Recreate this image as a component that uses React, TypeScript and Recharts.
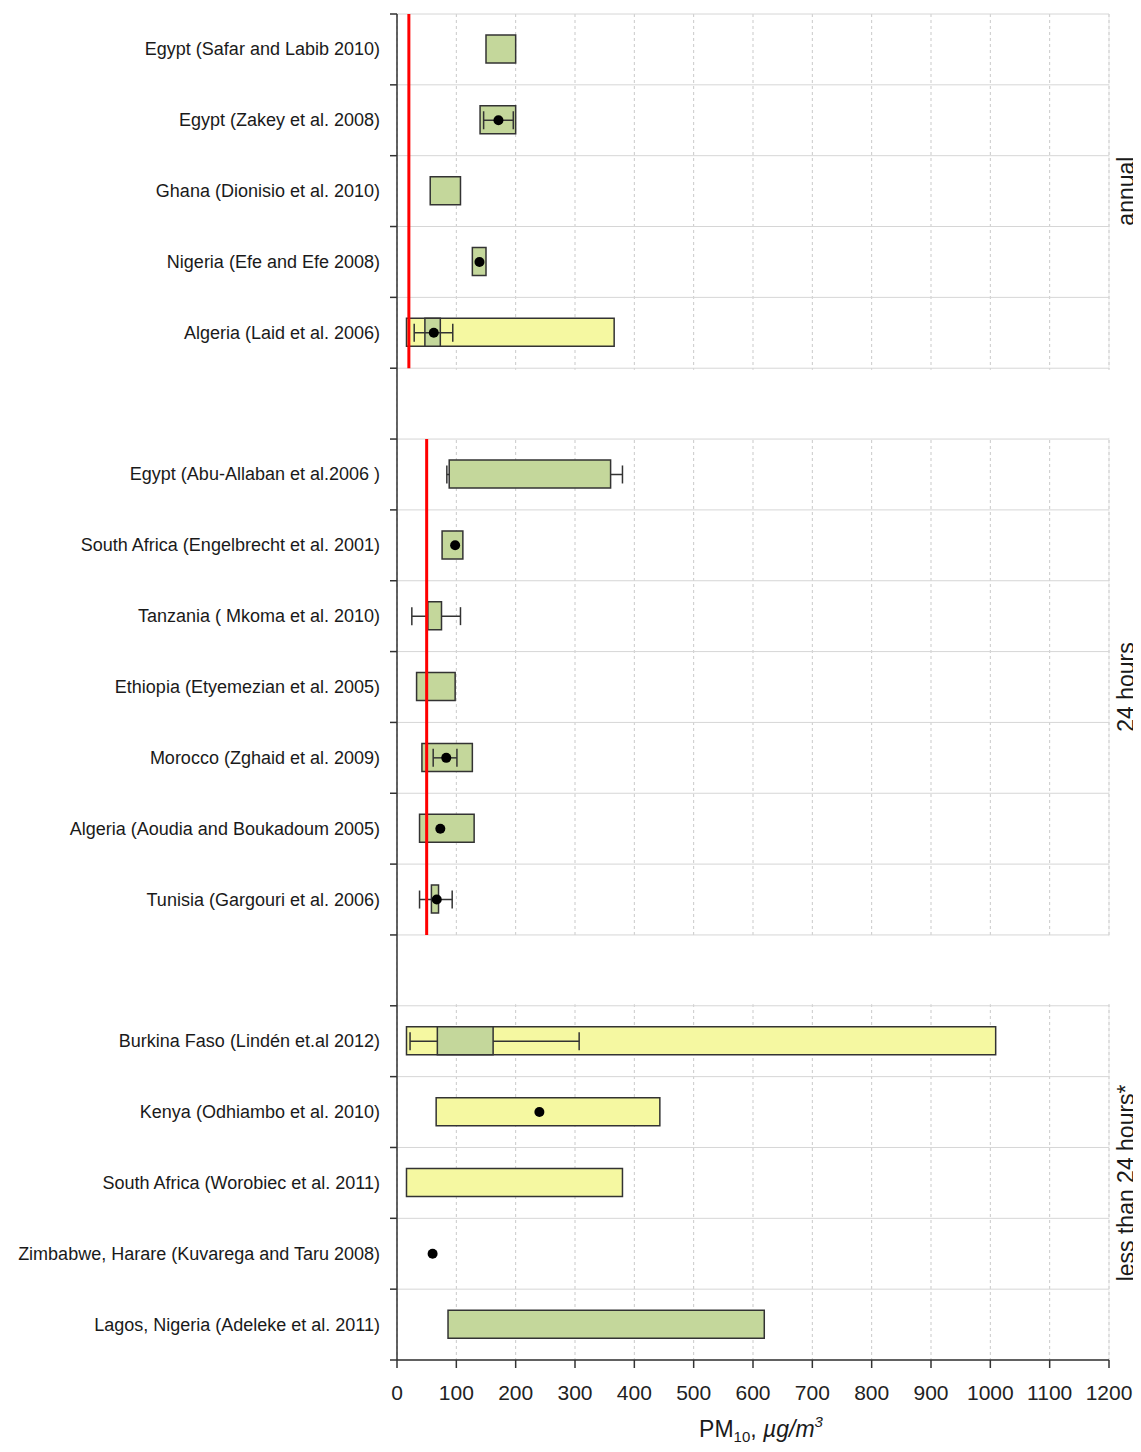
import React from 'react';
import {
  ComposedChart,
  Bar,
  Line,
  XAxis,
  YAxis,
  CartesianGrid,
  ReferenceLine,
  ReferenceArea,
  ErrorBar,
  Label,
} from 'recharts';

// Study rows, top to bottom. '' marks the blank spacer rows between groups.
const studies = [
  'Egypt (Safar and Labib 2010)',
  'Egypt (Zakey et al. 2008)',
  'Ghana (Dionisio et al. 2010)',
  'Nigeria (Efe and Efe 2008)',
  'Algeria (Laid et al. 2006)',
  '',
  'Egypt (Abu-Allaban et al.2006 )',
  'South Africa (Engelbrecht  et al. 2001)',
  'Tanzania ( Mkoma et al. 2010)',
  'Ethiopia (Etyemezian et al. 2005)',
  'Morocco (Zghaid et al. 2009) ',
  'Algeria (Aoudia and Boukadoum 2005) ',
  'Tunisia (Gargouri et al. 2006)',
  '',
  'Burkina Faso (Lindén et.al 2012)',
  'Kenya (Odhiambo et al. 2010)',
  'South Africa (Worobiec et al. 2011)',
  'Zimbabwe, Harare (Kuvarega and Taru 2008)',
  'Lagos, Nigeria (Adeleke et al. 2011)',
];

// green boxes (PM10 range)
const greenLow = [150, 140, 56, 127, 47, null, 88, 76, 52, 33, 42, 38, 58, null, 68, null, null, null, 86];
const greenHigh = [200, 200, 107, 150, 73, null, 360, 111, 75, 98, 127, 130, 70, null, 162, null, null, null, 619];

// yellow boxes (wider range)
const yellowLow = [null, null, null, null, 16, null, null, null, null, null, null, null, null, null, 16, 66, 16, null, null];
const yellowHigh = [null, null, null, null, 366, null, null, null, null, null, null, null, null, null, 1009, 443, 380, null, null];

// mean values (black dots)
const means = [null, 171, null, 139, 62, null, null, 98, null, null, 83, 73, 67, null, null, 240, null, 60, null];

// whiskers drawn on top of the boxes
const frontLow = [null, 146, null, null, 29, null, null, null, null, null, 61, null, 38, null, null, null, null, null, null];
const frontHigh = [null, 196, null, null, 94, null, null, null, null, null, 101, null, 93, null, null, null, null, null, null];

// whiskers hidden behind the green boxes
const backLow = [null, null, null, null, null, null, 84, null, 25, null, null, null, null, null, 22, null, null, null, null];
const backHigh = [null, null, null, null, null, null, 380, null, 107, null, null, null, null, null, 307, null, null, null, null];

const sections = ['annual', '24 hours', 'less than 24 hours*'];
const sectionStart = [0, 6, 14];
const sectionEnd = [5, 13, 19];
const guidelines = [20, 50]; // WHO annual and 24h limits
const gapRows = [5, 13];

const xTicks = [0, 100, 200, 300, 400, 500, 600, 700, 800, 900, 1000, 1100, 1200];
const minorTicks = Array.from({ length: 61 }, (_, i) => i * 20);
const rowCount = studies.length;
const rowLines = Array.from({ length: rowCount + 1 }, (_, i) => i);
const rowTicks = Array.from({ length: rowCount * 2 + 1 }, (_, i) => i / 2);
const sectionMid = sectionStart.map((s, i) => (s + sectionEnd[i]) / 2);

const pair = (lo: number | null, hi: number | null) => (lo == null || hi == null ? null : [lo, hi]);

const data = studies.map((name, i) => ({
  key: `row${i}`,
  pos: i + 0.5,
  name,
  green: pair(greenLow[i], greenHigh[i]),
  yellow: pair(yellowLow[i], yellowHigh[i]),
  mean: means[i],
  frontMid: frontLow[i] == null ? null : (frontLow[i]! + frontHigh[i]!) / 2,
  frontErr: frontLow[i] == null ? null : (frontHigh[i]! - frontLow[i]!) / 2,
  backMid: backLow[i] == null ? null : (backLow[i]! + backHigh[i]!) / 2,
  backErr: backLow[i] == null ? null : (backHigh[i]! - backLow[i]!) / 2,
}));

const FONT = '"Liberation Sans", Arial, sans-serif';
const INK = '#333';
const GREEN = '#c4d79b';
const YELLOW = '#f5f8a1';

const RowTick = (props: any) => {
  const { x, y, payload } = props;
  const v = payload.value as number;
  if (Number.isInteger(v)) {
    return (
      <g>
        <line x1={x - 7} x2={x} y1={y} y2={y} stroke={INK} strokeWidth={1.5} />
      </g>
    );
  }
  return (
    <g>
      <text
        x={x - 17}
        y={y}
        textAnchor="end"
        dominantBaseline="central"
        fontFamily={FONT}
        fontSize={18}
        fill="#1a1a1a"
      >
        {studies[Math.floor(v)]}
      </text>
    </g>
  );
};

const SectionTick = (props: any) => {
  const { x, y, index } = props;
  const tx = x + 17;
  return (
    <g>
      <text
        x={tx}
        y={y}
        transform={`rotate(-90 ${tx} ${y})`}
        textAnchor="middle"
        dominantBaseline="central"
        fontFamily={FONT}
        fontSize={23}
        fill="#1a1a1a"
      >
        {sections[index]}
      </text>
    </g>
  );
};

const XTitle = (props: any) => {
  const { viewBox } = props;
  const cx = viewBox.x + viewBox.width / 2 + 8;
  const cy = viewBox.y + 77;
  return (
    <text x={cx} y={cy} textAnchor="middle" fontFamily={FONT} fontSize={23} fill="#1a1a1a">
      PM
      <tspan fontSize={15} dy={5}>10</tspan>
      <tspan dy={-5}>, </tspan>
      <tspan fontStyle="italic">µg/m</tspan>
      <tspan fontStyle="italic" fontSize={15} dy={-10}>3</tspan>
    </text>
  );
};

const App: React.FC = () => {
  return (
    <div style={{ width: 1133, height: 1436 }}>
      <ComposedChart
        width={1133}
        height={1436}
        data={data}
        layout="vertical"
        margin={{ top: 6, right: 0, bottom: 0, left: 0 }}
        barSize={28}
        barGap={-28}
      >
        {/* minor vertical grid every 20 */}
        <CartesianGrid xAxisId="minor" yAxisId="grid" horizontal={false} stroke="#ebebeb" />
        {/* major vertical grid every 100 */}
        <CartesianGrid xAxisId="main" yAxisId="grid" horizontal={false} stroke="#c9c9c9" strokeDasharray="3 3" />
        {/* row separators */}
        <CartesianGrid xAxisId="main" yAxisId="grid" vertical={false} stroke="#d6d6d6" />

        <XAxis
          xAxisId="main"
          type="number"
          domain={[0, 1200]}
          ticks={xTicks}
          interval={0}
          height={84}
          tickSize={8}
          tickMargin={17}
          stroke={INK}
          strokeWidth={1.5}
          tick={{ fontFamily: FONT, fontSize: 21, fill: '#222' }}
        >
          <Label content={XTitle} />
        </XAxis>
        <XAxis xAxisId="minor" type="number" domain={[0, 1200]} ticks={minorTicks} interval={0} height={0} hide />

        <YAxis yAxisId="cat" type="category" dataKey="key" width={0} hide />
        <YAxis
          yAxisId="grid"
          type="number"
          dataKey="pos"
          domain={[0, rowCount]}
          allowDataOverflow
          ticks={rowLines}
          interval={0}
          width={0}
          hide
        />
        <YAxis
          yAxisId="num"
          type="number"
          dataKey="pos"
          orientation="left"
          domain={[0, rowCount]}
          allowDataOverflow
          ticks={rowTicks}
          interval={0}
          width={389}
          tickSize={0}
          tickMargin={0}
          tickLine={false}
          stroke={INK}
          strokeWidth={1.5}
          tick={RowTick}
        />
        <YAxis
          yAxisId="sec"
          type="number"
          dataKey="pos"
          orientation="right"
          domain={[0, rowCount]}
          allowDataOverflow
          ticks={sectionMid}
          interval={0}
          width={32}
          tickSize={0}
          tickMargin={0}
          tickLine={false}
          axisLine={false}
          tick={SectionTick}
        />

        {/* blank spacer rows between groups */}
        {gapRows.map((g) => (
          <ReferenceArea
            key={`gap${g}`}
            xAxisId="main"
            yAxisId="num"
            x1={0}
            x2={1205}
            y1={g + 0.02}
            y2={g + 0.98}
            ifOverflow="visible"
            fill="#ffffff"
            fillOpacity={1}
            stroke="none"
          />
        ))}

        <Bar
          xAxisId="main"
          yAxisId="cat"
          dataKey="yellow"
          fill={YELLOW}
          stroke={INK}
          strokeWidth={1.5}
          isAnimationActive={false}
          zIndex={300}
        />
        <Line
          xAxisId="main"
          yAxisId="cat"
          dataKey="backMid"
          stroke="none"
          dot={false}
          activeDot={false}
          isAnimationActive={false}
          zIndex={310}
        >
          <ErrorBar dataKey="backErr" direction="x" width={9} stroke={INK} strokeWidth={1.5} zIndex={310} />
        </Line>
        <Bar
          xAxisId="main"
          yAxisId="cat"
          dataKey="green"
          fill={GREEN}
          stroke={INK}
          strokeWidth={1.5}
          isAnimationActive={false}
          zIndex={320}
        />
        <Line
          xAxisId="main"
          yAxisId="cat"
          dataKey="frontMid"
          stroke="none"
          dot={false}
          activeDot={false}
          isAnimationActive={false}
          zIndex={400}
        >
          <ErrorBar dataKey="frontErr" direction="x" width={9} stroke={INK} strokeWidth={1.5} zIndex={400} />
        </Line>
        <Line
          xAxisId="main"
          yAxisId="cat"
          dataKey="mean"
          stroke="none"
          dot={{ r: 5, fill: '#000', stroke: '#000', strokeWidth: 0 }}
          activeDot={false}
          isAnimationActive={false}
          zIndex={410}
        />

        {guidelines.map((g, i) => (
          <ReferenceLine
            key={`who${i}`}
            xAxisId="main"
            yAxisId="num"
            segment={[
              { x: g, y: sectionStart[i] },
              { x: g, y: sectionEnd[i] },
            ]}
            stroke="#ff0000"
            strokeWidth={3}
            zIndex={500}
          />
        ))}
      </ComposedChart>
    </div>
  );
};

export default App;
